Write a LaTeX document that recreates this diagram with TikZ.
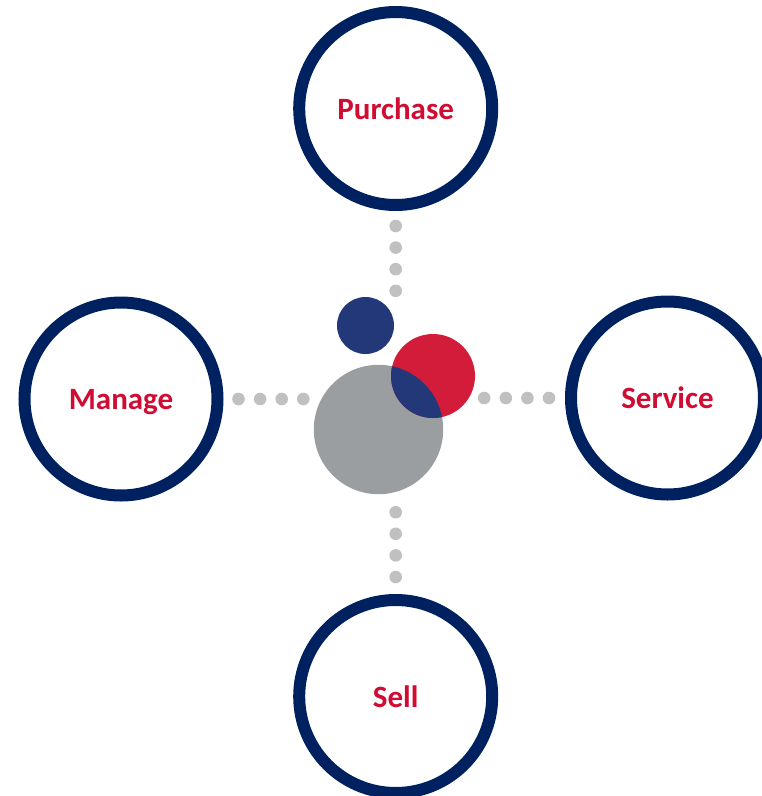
\documentclass[tikz,border=0pt]{standalone}
\usepackage{fontspec}
\setmainfont{Carlito}
\usepackage{tikz}
\usetikzlibrary{positioning}

\definecolor{ringblue}{RGB}{0,33,96}
\definecolor{ballblue}{RGB}{35,56,120}
\definecolor{ballred}{RGB}{210,28,58}
\definecolor{ballgray}{RGB}{154,158,161}
\definecolor{dotgray}{RGB}{192,192,192}
\definecolor{textred}{RGB}{208,12,50}

\begin{document}
\begin{tikzpicture}[x=1pt, y=-1pt,
    ring/.style={circle, draw=ringblue, line width=12pt, minimum size=193pt, inner sep=0pt, text depth=0pt, text=textred, font=\fontsize{31}{36}\selectfont\bfseries},
    ball/.style={circle, inner sep=0pt, draw=none},
    dotrow/.style={dotgray, line width=12.6pt, line cap=round, dash pattern=on 0pt off 21.6pt, shorten <=15pt}]

    % Rahmen
    \path[use as bounding box] (0,0) rectangle (762,796);
    \clip (0,0) rectangle (762,796);

    % Ringe
    \node (Purchase) at (395.7,108.5) [ring] {Purchase};
    \node (Manage) at (121,399) [ring] {Manage};
    \node (Service) at (667.5,398) [ring] {Service};
    \node (Sell) at (395.7,696.5) [ring] {Sell};

    % Kugeln in der Mitte
    \node (Grau) at (378.5,429.5) [ball, fill=ballgray, minimum size=129.4pt] {};
    \node (Rot) at (433,376) [ball, fill=ballred, minimum size=84pt] {};
    \node (Blau) at (365.5,325.5) [ball, fill=ballblue, minimum size=57pt] {};
    \begin{scope}
        \clip (Rot.center) circle (42pt);
        \fill[ballblue] (Grau.center) circle (64.7pt);
    \end{scope}

    % Punktreihen
    \coordinate (PurchaseEnd) at (395.7,300);
    \coordinate (ManageEnd) at (312,399);
    \coordinate (ServiceEnd) at (476,398);
    \coordinate (SellEnd) at (395.7,504);
    \draw[dotrow] (Purchase) -- (PurchaseEnd);
    \draw[dotrow] (Manage) -- (ManageEnd);
    \draw[dotrow, shorten <=16pt] (Service) -- (ServiceEnd);
    \draw[dotrow, shorten <=17pt] (Sell) -- (SellEnd);

\end{tikzpicture}
\end{document}
